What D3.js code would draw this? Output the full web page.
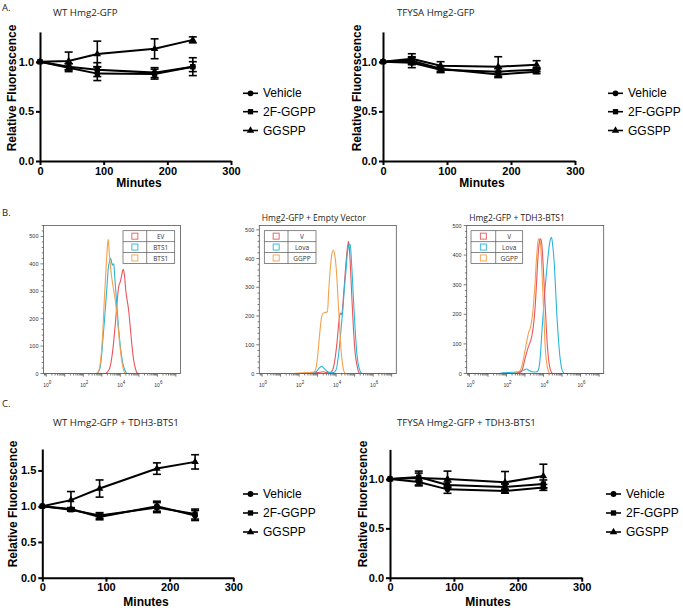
<!DOCTYPE html>
<html><head><meta charset="utf-8">
<script src="https://cdn.jsdelivr.net/npm/d3@7"></script>
<style>body{margin:0;background:#fff}svg{display:block}</style>
</head><body>
<svg id="c" width="683" height="613"></svg>
<script>
// ---------- DATA ----------
const minutes = [0, 45, 90, 180, 240];
const seriesNames = ["Vehicle", "2F-GGPP", "GGSPP"];
const minuteTicks = [0, 100, 200, 300];

// Panel A left: WT Hmg2-GFP
const aWT_vehicle = [1.0, 0.95, 0.92, 0.89, 0.95];
const aWT_vehicleErr = [0, 0.03, 0.07, 0.05, 0.05];
const aWT_2f = [1.0, 0.94, 0.88, 0.875, 0.95];
const aWT_2fErr = [0, 0.04, 0.07, 0.05, 0.09];
const aWT_ggspp = [1.0, 1.007, 1.077, 1.13, 1.22];
const aWT_ggsppErr = [0, 0.09, 0.13, 0.10, 0.03];

// Panel A right: TFYSA Hmg2-GFP
const aTF_vehicle = [1.0, 0.99, 0.92, 0.90, 0.92];
const aTF_vehicleErr = [0, 0.05, 0.03, 0.03, 0.02];
const aTF_2f = [1.0, 1.01, 0.93, 0.87, 0.90];
const aTF_2fErr = [0, 0.04, 0.03, 0.03, 0.02];
const aTF_ggspp = [1.0, 1.03, 0.96, 0.95, 0.97];
const aTF_ggsppErr = [0, 0.05, 0.04, 0.10, 0.04];

// Panel C left: WT Hmg2-GFP + TDH3-BTS1
const cWT_vehicle = [1.0, 0.96, 0.85, 1.0, 0.87];
const cWT_vehicleErr = [0, 0.02, 0.04, 0.07, 0.07];
const cWT_2f = [1.0, 0.95, 0.87, 0.98, 0.89];
const cWT_2fErr = [0, 0.02, 0.04, 0.07, 0.07];
const cWT_ggspp = [1.0, 1.085, 1.247, 1.526, 1.62];
const cWT_ggsppErr = [0, 0.12, 0.12, 0.08, 0.10];

// Panel C right: TFYSA Hmg2-GFP + TDH3-BTS1
const cTF_vehicle = [1.0, 0.97, 0.895, 0.878, 0.915];
const cTF_vehicleErr = [0, 0.04, 0.04, 0.02, 0.03];
const cTF_2f = [1.0, 1.02, 0.94, 0.92, 0.95];
const cTF_2fErr = [0, 0.04, 0.03, 0.03, 0.04];
const cTF_ggspp = [1.0, 1.01, 1.0, 0.966, 1.03];
const cTF_ggsppErr = [0, 0.07, 0.08, 0.11, 0.12];

// Panel B histograms: [log10 fluorescence, count]
const h1Labels = ["EV", "BTS1", "BTS1"];
const h1_EV = [[-0.15,0],[3.15,0],[3.3,5],[3.45,25],[3.6,90],[3.74,190],[3.85,280],[3.92,320],[4.0,335],[4.08,360],[4.15,380],[4.22,360],[4.3,300],[4.45,230],[4.55,160],[4.63,100],[4.72,50],[4.81,20],[4.9,3],[5.0,0],[7.25,0]];
const h1_BTS1a = [[-0.15,0],[2.7,0],[2.85,10],[2.95,40],[3.03,100],[3.15,200],[3.26,300],[3.35,385],[3.42,410],[3.48,420],[3.53,405],[3.57,395],[3.62,400],[3.65,398],[3.7,350],[3.8,260],[3.9,170],[4.0,100],[4.1,50],[4.2,20],[4.3,5],[4.37,0],[7.25,0]];
const h1_BTS1b = [[-0.15,0],[2.7,0],[2.8,5],[2.94,50],[3.05,150],[3.12,250],[3.2,350],[3.26,420],[3.31,470],[3.35,490],[3.4,440],[3.5,370],[3.6,320],[3.74,260],[3.85,190],[3.95,120],[4.05,60],[4.15,20],[4.28,0],[7.25,0]];

const h2Labels = ["V", "Lova", "GGPP"];
const h2_V = [[-0.15,0],[2.3,0],[2.6,2],[3.0,3],[3.3,6],[3.5,3],[3.7,4],[3.85,20],[3.95,55],[4.05,110],[4.15,180],[4.22,210],[4.3,205],[4.4,270],[4.49,350],[4.58,420],[4.67,460],[4.72,430],[4.78,360],[4.86,250],[4.94,150],[5.03,70],[5.12,30],[5.2,8],[5.3,0],[7.25,0]];
const h2_Lova = [[-0.15,0],[2.5,0],[2.77,2],[2.95,8],[3.1,20],[3.22,25],[3.35,18],[3.5,8],[3.7,3],[3.85,3],[3.95,8],[4.03,20],[4.12,60],[4.22,120],[4.3,180],[4.36,220],[4.45,300],[4.52,350],[4.61,420],[4.7,448],[4.76,450],[4.82,400],[4.88,330],[4.95,240],[5.03,150],[5.12,70],[5.2,30],[5.3,8],[5.4,0],[7.25,0]];
const h2_GGPP = [[-0.15,0],[1.6,0],[2.0,2],[2.4,3],[2.8,5],[2.9,15],[3.0,60],[3.1,130],[3.2,190],[3.3,210],[3.4,212],[3.53,215],[3.6,290],[3.68,360],[3.78,420],[3.85,430],[3.93,410],[4.0,370],[4.07,300],[4.12,240],[4.2,150],[4.27,80],[4.35,30],[4.42,8],[4.5,0],[7.25,0]];

const h3Labels = ["V", "Lova", "GGPP"];
const h3_V = [[-0.15,0],[2.4,0],[2.7,3],[2.85,12],[3.0,50],[3.18,90],[3.3,110],[3.38,130],[3.45,160],[3.53,210],[3.6,280],[3.66,350],[3.72,410],[3.78,445],[3.84,455],[3.9,440],[3.95,400],[4.01,330],[4.07,250],[4.14,170],[4.2,100],[4.27,50],[4.34,20],[4.42,5],[4.5,0],[7.25,0]];
const h3_Lova = [[-0.15,0],[1.5,0],[1.8,2],[2.02,3],[2.3,4],[2.56,5],[2.82,8],[2.98,13],[3.09,15],[3.2,11],[3.3,8],[3.45,5],[3.54,5],[3.64,6],[3.72,12],[3.78,30],[3.84,70],[3.9,130],[3.98,200],[4.06,270],[4.13,320],[4.2,370],[4.25,400],[4.34,445],[4.43,460],[4.5,430],[4.57,380],[4.64,300],[4.7,220],[4.79,130],[4.88,60],[4.97,20],[5.05,5],[5.15,0],[7.25,0]];
const h3_GGPP = [[-0.15,0],[2.4,0],[2.6,3],[2.74,10],[2.85,30],[2.95,60],[3.05,95],[3.13,120],[3.2,140],[3.27,150],[3.34,170],[3.41,200],[3.48,250],[3.54,300],[3.6,370],[3.66,420],[3.71,450],[3.75,455],[3.8,450],[3.86,420],[3.92,340],[3.98,250],[4.04,160],[4.1,80],[4.17,35],[4.25,10],[4.35,0],[7.25,0]];

const histTickValues = [0, 100, 200, 300, 400, 500];
const histDecadeLabels = [0, 2, 4, 6];

// ---------- DRAWING ----------
const svg = d3.select("#c");
svg.append("rect").attr("width", 683).attr("height", 613).attr("fill", "#fff");
const SANS = "'Liberation Sans', Arial, sans-serif";
const TITLE = "'Open Sans', sans-serif";
const colRed = "#e9565c", colCyan = "#2bb5d8", colOrange = "#f3a14c";

const symbols = [d3.symbolCircle, d3.symbolSquare, d3.symbolTriangle];
const symSizes = [26, 28, 24];

function marker(g, i, x, y) {
  g.append("path").attr("d", d3.symbol().type(symbols[i]).size(symSizes[i])())
    .attr("transform", `translate(${x},${y})`).attr("fill", "#000");
}

function linePanel(p) {
  const x = d3.scaleLinear().domain([0, 300]).range([p.left, p.right]);
  const y = d3.scaleLinear().domain([0, p.yMax]).range([p.bottom, p.top]);
  const g = svg.append("g");
  const ya = g.append("g").attr("transform", `translate(${p.left},0)`)
    .call(d3.axisLeft(y).tickValues(p.yTicks).tickFormat(d3.format(".1f")).tickSize(4).tickSizeOuter(0).tickPadding(2));
  const xa = g.append("g").attr("transform", `translate(0,${p.bottom})`)
    .call(d3.axisBottom(x).tickValues(minuteTicks).tickSize(4).tickSizeOuter(0).tickPadding(2));
  [ya, xa].forEach(a => {
    a.select(".domain").attr("stroke-width", 2).attr("stroke", "#000");
    a.selectAll(".tick line").attr("stroke-width", 2).attr("stroke", "#000");
    a.selectAll("text").attr("font-family", SANS).attr("font-weight", "bold").attr("font-size", 11).attr("fill", "#000");
  });
  const line = d3.line().x((d, i) => x(minutes[i])).y(d => y(d));
  p.series.forEach((s, si) => {
    g.append("path").datum(s.v).attr("d", line).attr("fill", "none").attr("stroke", "#000").attr("stroke-width", 2);
  });
  p.series.forEach((s, si) => {
    s.v.forEach((v, i) => {
      const e = s.e[i];
      if (e > 0) {
        const cx = x(minutes[i]);
        g.append("line").attr("x1", cx).attr("x2", cx).attr("y1", y(v - e)).attr("y2", y(v + e)).attr("stroke", "#000").attr("stroke-width", 1.6);
        [v - e, v + e].forEach(vv => g.append("line").attr("x1", cx - 4).attr("x2", cx + 4).attr("y1", y(vv)).attr("y2", y(vv)).attr("stroke", "#000").attr("stroke-width", 1.6));
      }
    });
  });
  p.series.forEach((s, si) => {
    s.v.forEach((v, i) => marker(g, si, x(minutes[i]), y(v)));
  });
  // titles
  g.append("text").attr("x", p.titleX).attr("y", p.titleY).attr("dominant-baseline", "central")
    .attr("font-family", TITLE).attr("font-size", 9.7).attr("fill", "#222").text(p.title);
  g.append("text").attr("transform", `translate(${p.ylabX},${p.ylabY}) rotate(-90)`).attr("text-anchor", "middle")
    .attr("dominant-baseline", "central").attr("font-family", SANS).attr("font-weight", "bold").attr("font-size", 12).text("Relative Fluorescence");
  g.append("text").attr("x", p.minX).attr("y", p.minY).attr("text-anchor", "middle").attr("dominant-baseline", "central")
    .attr("font-family", SANS).attr("font-weight", "bold").attr("font-size", 12).text("Minutes");
  // legend
  seriesNames.forEach((n, i) => {
    const ly = p.legY[i];
    g.append("line").attr("x1", p.legX).attr("x2", p.legX + 15).attr("y1", ly).attr("y2", ly).attr("stroke", "#000").attr("stroke-width", 1.6);
    marker(g, i, p.legX + 7.5, ly);
    g.append("text").attr("x", p.legX + 20).attr("y", ly).attr("dominant-baseline", "central")
      .attr("font-family", SANS).attr("font-size", 12).attr("fill", "#000").text(n);
  });
}

linePanel({left: 40, right: 231, bottom: 161, top: 161 - 1.3 * 99.3, yMax: 1.3, yTicks: [0, 0.5, 1.0],
  series: [{v: aWT_vehicle, e: aWT_vehicleErr}, {v: aWT_2f, e: aWT_2fErr}, {v: aWT_ggspp, e: aWT_ggsppErr}],
  title: "WT Hmg2-GFP", titleX: 53, titleY: 12, ylabX: 12, ylabY: 88, minX: 139, minY: 183,
  legX: 243, legY: [93.3, 111.7, 130.5]});
linePanel({left: 383, right: 575, bottom: 161, top: 161 - 1.3 * 99.3, yMax: 1.3, yTicks: [0, 0.5, 1.0],
  series: [{v: aTF_vehicle, e: aTF_vehicleErr}, {v: aTF_2f, e: aTF_2fErr}, {v: aTF_ggspp, e: aTF_ggsppErr}],
  title: "TFYSA Hmg2-GFP", titleX: 397, titleY: 12, ylabX: 357, ylabY: 88, minX: 482, minY: 183,
  legX: 608, legY: [93.3, 111.7, 130.5]});
linePanel({left: 42.3, right: 233.3, bottom: 577.7, top: 577.7 - 1.8 * 71.5, yMax: 1.8, yTicks: [0, 0.5, 1.0, 1.5],
  series: [{v: cWT_vehicle, e: cWT_vehicleErr}, {v: cWT_2f, e: cWT_2fErr}, {v: cWT_ggspp, e: cWT_ggsppErr}],
  title: "WT Hmg2-GFP + TDH3-BTS1", titleX: 53, titleY: 422, ylabX: 13, ylabY: 504, minX: 146, minY: 602,
  legX: 243, legY: [494, 513, 532]});
linePanel({left: 390, right: 581.7, bottom: 577.7, top: 577.7 - 1.3 * 98.7, yMax: 1.3, yTicks: [0, 0.5, 1.0],
  series: [{v: cTF_vehicle, e: cTF_vehicleErr}, {v: cTF_2f, e: cTF_2fErr}, {v: cTF_ggspp, e: cTF_ggsppErr}],
  title: "TFYSA Hmg2-GFP + TDH3-BTS1", titleX: 397, titleY: 422, ylabX: 363, ylabY: 504, minX: 488, minY: 602,
  legX: 606, legY: [494, 513, 532]});

// Panel letters
[["A.", 2, 7], ["B.", 2, 212], ["C.", 2, 403]].forEach(([t, x, y]) =>
  svg.append("text").attr("x", x).attr("y", y).attr("dominant-baseline", "central").attr("font-family", TITLE)
    .attr("font-size", 9.5).attr("fill", "#222").text(t));

function histPanel(p) {
  const top = 225.5, bottom = 373.5;
  const x = d3.scaleLog().domain([Math.pow(10, -0.15), Math.pow(10, 7.25)]).range([p.left, p.left + 137]);
  const y = d3.scaleLinear().domain([0, p.yMax]).range([bottom, top]);
  const g = svg.append("g");
  const clipId = "clip" + Math.round(p.left);
  g.append("clipPath").attr("id", clipId).append("rect").attr("x", p.left).attr("y", top).attr("width", 137).attr("height", bottom - top + 1);
  const yMinor = d3.range(0, p.yMax + 0.1, 20);
  yMinor.forEach(v => {
    const major = v % 100 === 0;
    g.append("line").attr("x1", p.left).attr("x2", p.left - (major ? 3 : 1.8)).attr("y1", y(v)).attr("y2", y(v)).attr("stroke", "#444").attr("stroke-width", 0.7);
  });
  histTickValues.filter(v => v <= p.yMax).forEach(v =>
    g.append("text").attr("x", p.left - 5).attr("y", y(v)).attr("text-anchor", "end").attr("dominant-baseline", "central")
      .attr("font-family", SANS).attr("font-size", 5.5).attr("fill", "#333").text(v));
  for (let e = -1; e <= 7; e++) {
    for (let k = 1; k <= 9; k++) {
      const v = k * Math.pow(10, e);
      const [d0, d1] = x.domain();
      if (v < d0 || v > d1) continue;
      g.append("line").attr("x1", x(v)).attr("x2", x(v)).attr("y1", bottom).attr("y2", bottom + (k === 1 ? 3.2 : 2))
        .attr("stroke", "#444").attr("stroke-width", 0.7);
    }
  }
  histDecadeLabels.forEach(d => {
    const t = g.append("text").attr("x", x(Math.pow(10, d)) + 1).attr("y", 387).attr("text-anchor", "middle")
      .attr("font-family", SANS).attr("font-size", 5).attr("fill", "#333");
    t.append("tspan").text("10");
    t.append("tspan").attr("dy", -3.5).attr("font-size", 4.5).text(d);
  });
  const line = d3.line().x(d => x(Math.pow(10, d[0]))).y(d => y(d[1])).curve(d3.curveMonotoneX);
  p.curves.forEach(c => {
    g.append("path").datum(c.data).attr("d", line).attr("fill", "none").attr("stroke", c.color)
      .attr("stroke-width", 1.1).attr("clip-path", `url(#${clipId})`);
  });
  g.append("rect").attr("x", p.left).attr("y", top).attr("width", 137).attr("height", bottom - top)
    .attr("fill", "none").attr("stroke", "#555").attr("stroke-width", 0.8);
  const lw = 51.7, rh = 10.9, lx = p.legX, ly = 230.7;
  const lg = g.append("g");
  lg.append("rect").attr("x", lx).attr("y", ly).attr("width", lw).attr("height", rh * 3).attr("fill", "#fff").attr("stroke", "#555").attr("stroke-width", 0.7);
  lg.append("line").attr("x1", lx + p.div).attr("x2", lx + p.div).attr("y1", ly).attr("y2", ly + rh * 3).attr("stroke", "#555").attr("stroke-width", 0.7);
  [1, 2].forEach(r => lg.append("line").attr("x1", lx).attr("x2", lx + lw).attr("y1", ly + rh * r).attr("y2", ly + rh * r).attr("stroke", "#555").attr("stroke-width", 0.7));
  p.legend.forEach((c, i) => {
    lg.append("rect").attr("x", lx + p.div / 2 - 3).attr("y", ly + rh * i + rh / 2 - 3).attr("width", 6).attr("height", 6)
      .attr("fill", "none").attr("stroke", c.color).attr("stroke-width", 0.9);
    lg.append("text").attr("x", lx + (p.div + lw) / 2).attr("y", ly + rh * i + rh / 2 + 0.3).attr("text-anchor", "middle")
      .attr("dominant-baseline", "central").attr("font-family", TITLE).attr("font-size", 6.5).attr("fill", "#333").text(c.label);
  });
  if (p.title) g.append("text").attr("x", p.left + 2.5).attr("y", 217).attr("dominant-baseline", "central")
    .attr("font-family", TITLE).attr("font-size", 8.5).attr("fill", "#222").text(p.title);
}

const h1Curves = [{data: h1_EV, color: colRed, label: h1Labels[0]}, {data: h1_BTS1a, color: colCyan, label: h1Labels[1]}, {data: h1_BTS1b, color: colOrange, label: h1Labels[2]}];
const h2Curves = [{data: h2_V, color: colRed, label: h2Labels[0]}, {data: h2_Lova, color: colCyan, label: h2Labels[1]}, {data: h2_GGPP, color: colOrange, label: h2Labels[2]}];
const h3Curves = [{data: h3_V, color: colRed, label: h3Labels[0]}, {data: h3_Lova, color: colCyan, label: h3Labels[1]}, {data: h3_GGPP, color: colOrange, label: h3Labels[2]}];

histPanel({left: 43.5, yMax: 540, legX: 123, div: 23.7, title: null, curves: h1Curves, legend: h1Curves});
histPanel({left: 259.3, yMax: 515, legX: 264.3, div: 23.7, title: "Hmg2-GFP + Empty Vector", curves: h2Curves, legend: h2Curves});
histPanel({left: 466.7, yMax: 500, legX: 471, div: 24.7, title: "Hmg2-GFP + TDH3-BTS1",
  curves: [h3Curves[1], h3Curves[2], h3Curves[0]], legend: h3Curves});
</script>
</body></html>
